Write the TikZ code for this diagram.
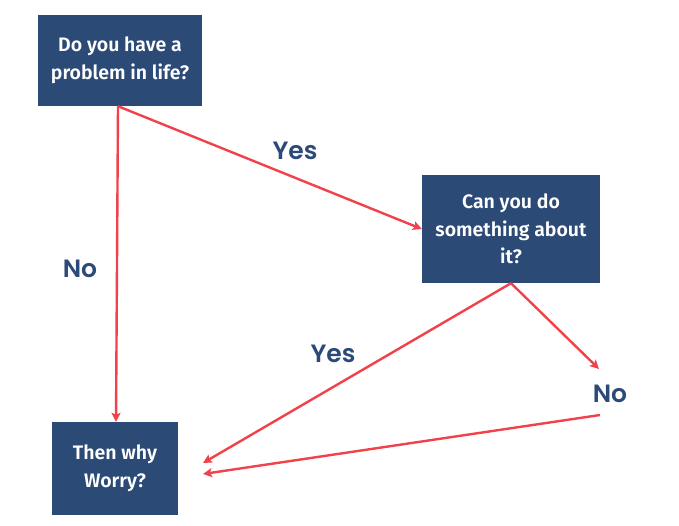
\documentclass[tikz,border=0pt]{standalone}
\usepackage{fontspec}
\usetikzlibrary{arrows.meta}
\newfontfamily\boxfont{Fira Sans}[UprightFont={* SemiBold}]
\newfontfamily\labfont{Poppins}[UprightFont={* SemiBold}]
\definecolor{boxblue}{HTML}{2B4A76}
\definecolor{labblue}{HTML}{2B4A78}
\definecolor{arrred}{HTML}{F1424B}
\tikzset{
  qbox/.style={rectangle, fill=boxblue, draw=none, text=white, align=center,
    font=\boxfont\fontsize{19.5}{27.5}\selectfont, inner sep=0pt},
  lab/.style={text=labblue, font=\labfont\fontsize{25}{30}\selectfont, inner sep=0pt},
  arr/.style={draw=arrred, line width=2.4pt, -{Stealth[length=9pt,width=9pt,inset=2pt]}}
}
\begin{document}
\begin{tikzpicture}[x=1pt,y=-1pt]
\useasboundingbox (0,0) rectangle (679,526);
\node[qbox, minimum width=164pt, minimum height=91pt] (top) at (120,60.5) {Do you have a\\problem in life?};
\node[qbox, minimum width=178pt, minimum height=108pt] (mid) at (511,229) {Can you do\\something about\\it?};
\node[qbox, minimum width=126pt, minimum height=93pt] (bot) at (115,468.5) {Then why\\Worry?};
\node[lab, anchor=base] (yes1) at (295,160) {Yes};
\node[lab, anchor=base] (no1) at (80,277) {No};
\node[lab, anchor=base] (yes2) at (333,362) {Yes};
\node[lab, anchor=base] (no2) at (610,402) {No};
\coordinate (tipno) at (599,369);
\coordinate (fromno) at (600,415);
\coordinate (tipa) at (203,463);
\coordinate (tipb) at (203,474);
\draw[arr] ([xshift=-2pt]top.south) -- ([xshift=1pt]bot.north);
\draw[arr] ([xshift=-2pt]top.south) -- (mid.west);
\draw[arr] (mid.south) -- (tipa);
\draw[arr] (mid.south) -- (tipno);
\draw[arr] (fromno) -- (tipb);
\end{tikzpicture}
\end{document}
